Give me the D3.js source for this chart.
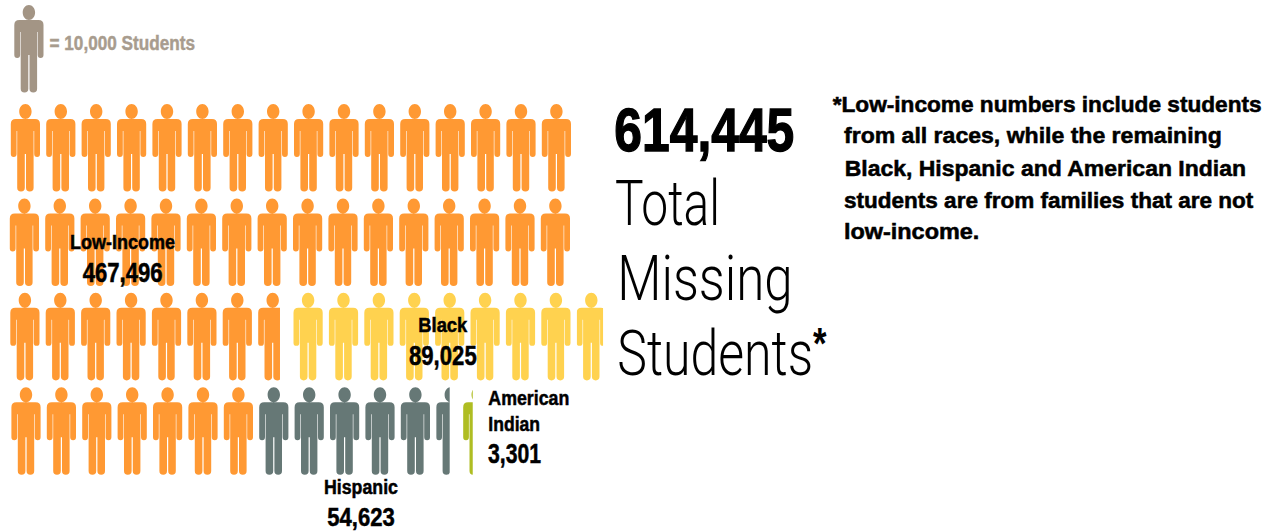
<!DOCTYPE html>
<html lang="en">
<head>
<meta charset="utf-8">
<title>Total Missing Students</title>
<script src="https://cdn.jsdelivr.net/npm/d3@7/dist/d3.min.js"></script>
<style>
  html, body { margin: 0; padding: 0; background: #fff; }
  svg { display: block; }
  text { font-family: "Liberation Sans Narrow", "Liberation Sans", sans-serif; font-weight: 700; fill: #000; }
  text.light { font-family: Roboto, "Liberation Sans", sans-serif; font-weight: 300; }
  tspan.mark { font-family: "Liberation Sans Narrow", "Liberation Sans", sans-serif; font-weight: 700; }
</style>
</head>
<body>
<svg id="chart" width="1271" height="531"></svg>
<script>
// Missing students by group; one figure stands for this many students.
const studentsPerFigure = 10000;
const groupNames = ["Low-Income", "Black", "Hispanic", "American Indian"];
const groupValues = [467496, 89025, 54623, 3301];
const totalMissing = 614445;
const legendLabel = "= 10,000 Students";
const headlineWords = ["Total", "Missing", "Students"];
const footnoteLines = [
  "*Low-income numbers include students",
  "from all races, while the remaining",
  "Black, Hispanic and American Indian",
  "students are from families that are not",
  "low-income."
];

const groupColors = ["#ff9933", "#ffd24f", "#667876", "#afbd22"];
const legendColor = "#a39585";

const svg = d3.select("#chart");
const fmt = d3.format(",");

// Grid of figure slots.
const xCol = d3.scaleLinear().domain([0, 16]).range([25.2, 591.6]);
const yRow = d3.scaleLinear().domain([0, 3]).range([104, 387.2]);
const rowShift = [0.2, -0.8, -0.3, 0.8];

// Slots each group fills, in order: [row, first column, number of slots].
const slotRuns = [
  [[0, 0, 16], [1, 0, 16], [3, 0, 7], [2, 0, 8]],
  [[2, 8, 9]],
  [[3, 7, 6]],
  [[3, 12.76, 1]]
];

// The pictogram figure, drawn around a vertical axis at x = 0 with the head top at y = 0.
const figureHalfWidth = 14.6;
function figurePath() {
  const p = d3.path();
  const w = figureHalfWidth, sh = 15, r = 5, armIn = 8.8, body = 8.2, armEnd = 53, armTop = 27;
  const crotch = 50, foot = 87.6, inner = 0.6;
  // head
  p.moveTo(6.2, 7.5);
  p.bezierCurveTo(6.2, 3.4, 3.4, 0, 0, 0);
  p.bezierCurveTo(-3.4, 0, -6.2, 3.4, -6.2, 7.5);
  p.bezierCurveTo(-6.2, 11.6, -3.4, 15, 0, 15);
  p.bezierCurveTo(3.4, 15, 6.2, 11.6, 6.2, 7.5);
  p.closePath();
  // trunk and limbs, clockwise from the left shoulder
  p.moveTo(-w + r, sh);
  p.lineTo(w - r, sh);
  p.quadraticCurveTo(w, sh, w, sh + r);
  p.lineTo(w, armEnd - 2.9);
  p.arc((w + armIn) / 2, armEnd - 2.9, (w - armIn) / 2, 0, Math.PI);
  p.lineTo(armIn, armTop);
  p.lineTo(body, armTop);
  p.lineTo(body, foot - 3.8);
  p.arc((body + inner) / 2, foot - 3.8, (body - inner) / 2, 0, Math.PI);
  p.lineTo(inner, crotch);
  p.lineTo(-inner, crotch);
  p.lineTo(-inner, foot - 3.8);
  p.arc(-(body + inner) / 2, foot - 3.8, (body - inner) / 2, 0, Math.PI);
  p.lineTo(-body, armTop);
  p.lineTo(-armIn, armTop);
  p.lineTo(-armIn, armEnd - 2.9);
  p.arc(-(w + armIn) / 2, armEnd - 2.9, (w - armIn) / 2, 0, Math.PI);
  p.lineTo(-w, sh + r);
  p.quadraticCurveTo(-w, sh, -w + r, sh);
  p.closePath();
  return p.toString();
}
const figureD = figurePath();

// One record per figure; the last figure of a group carries the remainder.
const figures = groupValues.flatMap((value, g) => {
  const count = value / studentsPerFigure;
  const slots = slotRuns[g].flatMap(([row, col, n]) =>
    d3.range(n).map(i => ({ row, col: col + i })));
  return slots.slice(0, Math.ceil(count)).map((s, i) => ({
    group: g,
    row: s.row,
    col: s.col,
    share: Math.min(1, count - i)
  }));
});

const defs = svg.append("defs");
figures.forEach((d, i) => {
  if (d.share < 1) {
    defs.append("clipPath").attr("id", "partial-" + i)
      .append("rect")
      .attr("x", -figureHalfWidth)
      .attr("y", -1)
      .attr("width", 2 * figureHalfWidth * d.share)
      .attr("height", 90);
  }
});

svg.append("g").attr("class", "figures")
  .selectAll("g")
  .data(figures)
  .join("g")
  .attr("transform", d => `translate(${xCol(d.col) + rowShift[d.row]},${yRow(d.row)})`)
  .append("path")
  .attr("d", figureD)
  .attr("fill", d => groupColors[d.group])
  .attr("clip-path", (d, i) => d.share < 1 ? `url(#partial-${i})` : null);

// Key figure
svg.append("path")
  .attr("transform", "translate(28.9,5)")
  .attr("d", figureD)
  .attr("fill", legendColor);

// Text is fitted to a measured width so the condensed setting holds across fonts.
function label(x0, x1, baseline, size, str, opts = {}) {
  const t = svg.append("text")
    .attr("x", x0)
    .attr("y", baseline)
    .attr("font-size", size)
    .attr("textLength", x1 - x0)
    .attr("lengthAdjust", "spacingAndGlyphs")
    .text(str);
  if (opts.cls) t.attr("class", opts.cls);
  if (opts.fill) t.style("fill", opts.fill);
  if (opts.stroke) t.style("stroke", opts.fill || "#000").style("stroke-width", opts.stroke);
  return t;
}

label(49.5, 195, 50, 20.3, legendLabel, { fill: "#a89c8e", stroke: 0.45 });

// Group labels with their values
const nameSize = 20.3, valueSize = 27, heavy = 0.5;
label(70, 175, 248.5, nameSize, groupNames[0], { stroke: heavy });
label(82.7, 162.7, 281.7, valueSize, fmt(groupValues[0]), { stroke: heavy });
label(418.3, 467.3, 331.7, nameSize, groupNames[1], { stroke: heavy });
label(409, 476.7, 365, valueSize, fmt(groupValues[1]), { stroke: heavy });
label(324, 398, 494.3, nameSize, groupNames[2], { stroke: heavy });
label(327.3, 394.7, 525.6, 25.5, fmt(groupValues[2]), { stroke: heavy });
const [aiFirst, aiSecond] = groupNames[3].split(" ");
label(488.3, 569.3, 405, nameSize, aiFirst, { stroke: heavy });
label(488.3, 540, 431, nameSize, aiSecond, { stroke: heavy });
label(488, 541, 463.3, valueSize, fmt(groupValues[3]), { stroke: heavy });

// Headline
label(614.3, 794.3, 150.7, 62, fmt(totalMissing), { stroke: 1.4 });
label(615, 720, 225, 63.3, headlineWords[0], { cls: "light" });
label(617.3, 792.7, 300, 63.3, headlineWords[1], { cls: "light" });
const lastWord = label(617.3, 826.5, 375, 63.3, headlineWords[2], { cls: "light" });
lastWord.append("tspan").attr("class", "mark")
  .attr("font-size", 44).attr("dy", -16).text("*");

// Footnote
const footnoteX = [[832.7, 1261.7], [844, 1221.7], [844.7, 1246], [844, 1253.3], [844, 979.3]];
const footnoteY = [111.7, 143.3, 175.7, 207.7, 239];
footnoteLines.forEach((line, i) => {
  label(footnoteX[i][0], footnoteX[i][1], footnoteY[i], 22.8, line, { stroke: 0.55 });
});
</script>
</body>
</html>
